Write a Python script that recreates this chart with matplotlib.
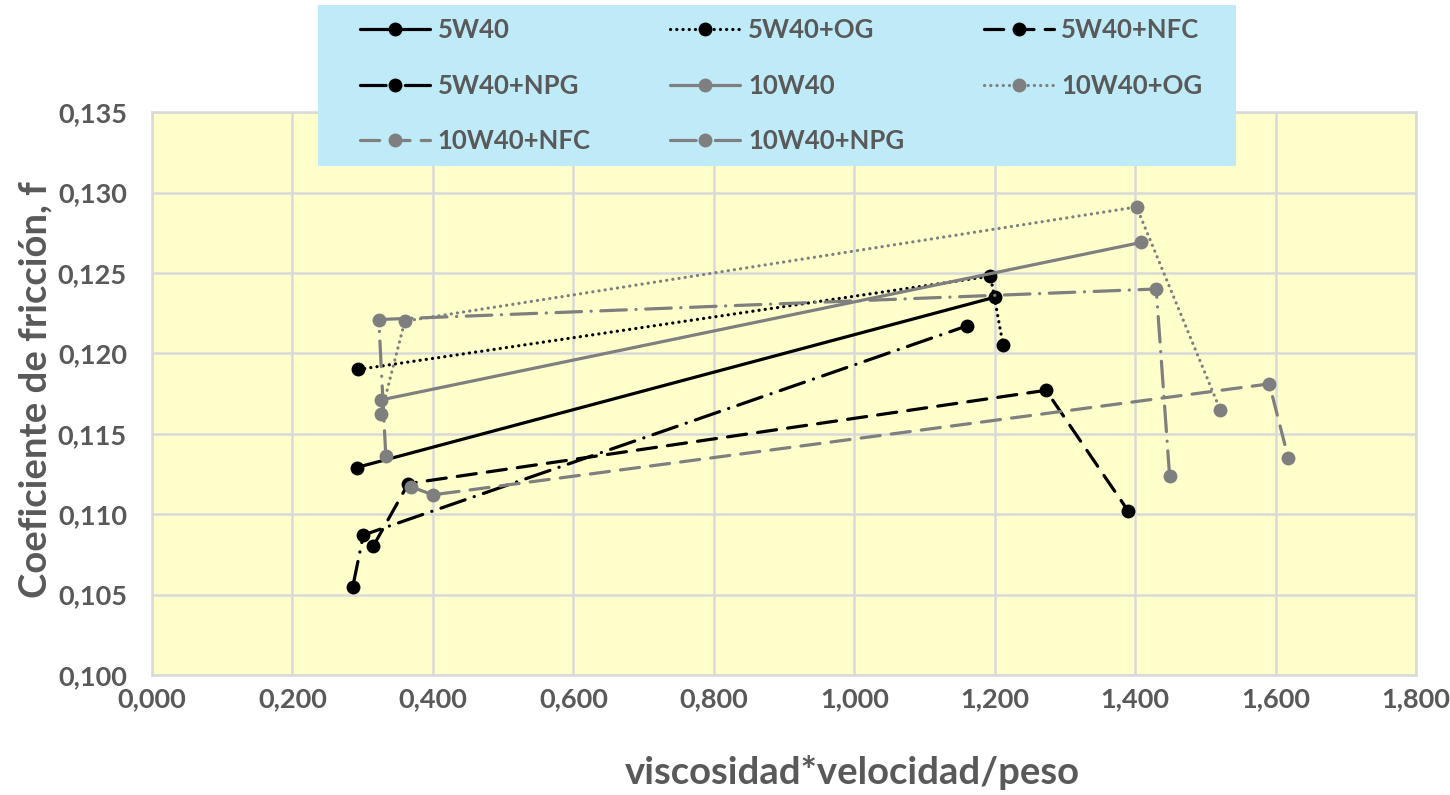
import matplotlib
matplotlib.use("Agg")
import matplotlib.pyplot as plt
from matplotlib.patches import Rectangle

# friction coefficient vs. viscosity*speed/load, one list pair per oil blend
x_5w40 = [0.2915, 1.201]
f_5w40 = [0.1129, 0.1235]
x_5w40_og = [0.294, 1.194, 1.212]
f_5w40_og = [0.1190, 0.1248, 0.1205]
x_5w40_nfc = [0.315, 0.365, 1.273, 1.390]
f_5w40_nfc = [0.1080, 0.1119, 0.1177, 0.1102]
x_5w40_npg = [0.286, 0.301, 1.160]
f_5w40_npg = [0.1055, 0.1087, 0.1217]
x_10w40 = [0.326, 1.409]
f_10w40 = [0.1171, 0.1269]
x_10w40_og = [0.326, 0.360, 1.402, 1.521]
f_10w40_og = [0.1162, 0.1220, 0.1291, 0.1165]
x_10w40_nfc = [0.369, 0.400, 1.591, 1.618]
f_10w40_nfc = [0.1117, 0.1112, 0.1181, 0.1135]
x_10w40_npg = [0.333, 0.323, 1.430, 1.449]
f_10w40_npg = [0.1136, 0.1221, 0.1240, 0.1124]

x_ticks = [0.0, 0.2, 0.4, 0.6, 0.8, 1.0, 1.2, 1.4, 1.6, 1.8]
y_ticks = [0.100, 0.105, 0.110, 0.115, 0.120, 0.125, 0.130, 0.135]

BLACK = "#000000"
GRAY = "#7F7F7F"
TEXT = "#595959"
GRID = "#D9D9D9"

plt.rcParams['font.family'] = ['Lato', 'DejaVu Sans']
plt.rcParams['font.weight'] = 'bold'

solid = '-'
dotted = (0, (0.05, 1.9))
dashed = (0, (6, 3.5))
dashdot = (0, (8, 3, 0.05, 3))

series = [
    ("5W40", x_5w40, f_5w40, BLACK, solid),
    ("5W40+OG", x_5w40_og, f_5w40_og, BLACK, dotted),
    ("5W40+NFC", x_5w40_nfc, f_5w40_nfc, BLACK, dashed),
    ("5W40+NPG", x_5w40_npg, f_5w40_npg, BLACK, dashdot),
    ("10W40", x_10w40, f_10w40, GRAY, solid),
    ("10W40+OG", x_10w40_og, f_10w40_og, GRAY, dotted),
    ("10W40+NFC", x_10w40_nfc, f_10w40_nfc, GRAY, dashed),
    ("10W40+NPG", x_10w40_npg, f_10w40_npg, GRAY, dashdot),
]

fig = plt.figure(figsize=(14.5, 7.95), dpi=100)
ax = fig.add_axes([0.1048, 0.151, 0.8718, 0.708])
ax.set_facecolor("#FFFFCC")

handles = {}
for name, xs, ys, col, ls in series:
    line, = ax.plot(xs, ys, color=col, linestyle=ls, linewidth=2.3,
                    marker='o', markersize=10, markeredgewidth=0,
                    dash_capstyle='round', solid_capstyle='round',
                    label=name, zorder=3)
    handles[name] = line

ax.set_xlim(0, 1.8)
ax.set_ylim(0.100, 0.135)
ax.set_xticks(x_ticks)
ax.set_yticks(y_ticks)
ax.set_xticklabels([f"{v:.3f}".replace('.', ',') for v in x_ticks])
ax.set_yticklabels([f"{v:.3f}".replace('.', ',') for v in y_ticks])
ax.tick_params(axis='both', length=0, labelsize=19.5, labelcolor=TEXT)
ax.tick_params(axis='y', pad=18)
ax.tick_params(axis='x', pad=9)
ax.grid(True, color=GRID, linewidth=1.8, zorder=0)
ax.set_axisbelow(True)
for sp in ax.spines.values():
    sp.set_color(GRID)
    sp.set_linewidth(1.8)

fig.text(35 / 1450, 1 - 390 / 795, "Coeficiente de fricción, f", rotation=90,
         ha='center', va='center', fontsize=27.5, color=TEXT, fontweight='bold')
fig.text(852 / 1450, 1 - 773 / 795, "viscosidad*velocidad/peso",
         ha='center', va='center', fontsize=27.5, color=TEXT, fontweight='bold')

# blue legend panel sitting over the top of the plot area
fig.add_artist(Rectangle((318 / 1450, 1 - 166 / 795), 918 / 1450, 161 / 795,
                         transform=fig.transFigure, facecolor="#BFEAF8",
                         edgecolor='none', zorder=4))

# legend rows read across, so feed the columns in that order
order = ["5W40", "5W40+NPG", "10W40+NFC",
         "5W40+OG", "10W40", "10W40+NPG",
         "5W40+NFC", "10W40+OG"]
leg = fig.legend([handles[n] for n in order], order, ncol=3,
                 loc='upper left', bbox_to_anchor=(360 / 1450, 1 - 18 / 795),
                 frameon=False, fontsize=18.5,
                 handlelength=2.72, handletextpad=0.3, borderpad=0,
                 labelspacing=1.23, columnspacing=3.1, borderaxespad=0)
leg.set_zorder(5)
for t in leg.get_texts():
    t.set_color(TEXT)

fig.savefig("out.png", dpi=100, facecolor='white')
